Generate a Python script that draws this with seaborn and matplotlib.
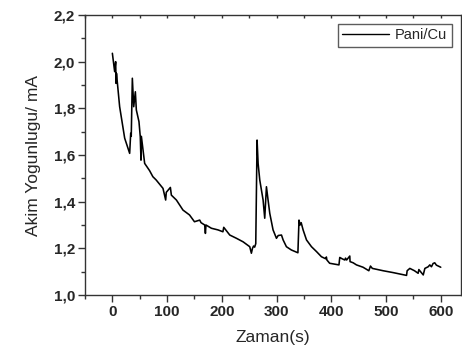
import matplotlib
matplotlib.use("Agg")
import matplotlib.pyplot as plt
from matplotlib.ticker import MultipleLocator, FixedLocator
import seaborn as sns
import pandas as pd

# Current density of the Pani/Cu electrode over time
zaman = [0, 4.2, 6, 6.8, 7.5, 13.3, 22.5, 31.6, 33.5, 34.5, 36.5, 39, 42, 43.8, 48.6, 51, 52.3, 53, 59, 68, 74,
         80, 92.5, 97.4, 98.5, 106, 107.8, 117, 129, 141, 150, 159.6, 162, 168.7, 170, 171, 181, 193, 202, 203.5,
         214.5, 226.7, 238.8, 251, 254, 256, 258, 260, 262, 264.4, 266.3, 269.3, 275.4, 278.4, 281.5, 284.5,
         287.6, 293.6, 299.8, 303, 309, 312, 318, 327, 339, 341, 343, 345, 348.5, 354.7, 363.8, 373, 382, 390,
         391, 392, 397, 414, 415.5, 420, 424.7, 426, 428, 433.8, 434.3, 440, 446, 458, 468.6, 471.6, 475, 494.7,
         513, 537.5, 538.6, 543.5, 552, 558.7, 560, 568, 571, 577, 580, 583, 586, 589, 592, 600]
akim = [2.036, 1.957, 2.0, 1.907, 1.95, 1.807, 1.672, 1.607, 1.693, 1.68, 1.929, 1.807, 1.871, 1.793, 1.743,
        1.678, 1.578, 1.68, 1.564, 1.533, 1.507,
        1.493, 1.457, 1.407, 1.44, 1.461, 1.428, 1.407, 1.364, 1.343, 1.314, 1.321, 1.31, 1.3, 1.264, 1.3,
        1.286, 1.279, 1.271, 1.29,
        1.257, 1.243, 1.228, 1.207, 1.179, 1.2, 1.21, 1.205, 1.22, 1.664, 1.564, 1.493, 1.407, 1.329, 1.464,
        1.407, 1.35, 1.279, 1.243, 1.255, 1.257, 1.236, 1.207, 1.193, 1.181, 1.321, 1.3, 1.31, 1.279, 1.236,
        1.207, 1.186, 1.164, 1.155, 1.163, 1.15, 1.136, 1.129, 1.161, 1.155, 1.15, 1.158, 1.15, 1.167, 1.143,
        1.138, 1.129, 1.119, 1.104, 1.124, 1.114, 1.104,
        1.096, 1.084, 1.104, 1.114, 1.104, 1.093, 1.109, 1.086, 1.114, 1.121, 1.129, 1.121, 1.135, 1.138,
        1.128, 1.119]

y_ticks = [1.0, 1.2, 1.4, 1.6, 1.8, 2.0, 2.2]
y_tick_labels = ["1,0", "1,2", "1,4", "1,6", "1,8", "2,0", "2,2"]
x_ticks = [0, 100, 200, 300, 400, 500, 600]

df = pd.DataFrame({"Zaman(s)": zaman, "Akim": akim, "seri": "Pani/Cu"})

sns.set_style("ticks")
plt.rcParams["font.family"] = ["Liberation Sans", "DejaVu Sans"]

fig = plt.figure(figsize=(4.62, 3.58), dpi=100)
ax = fig.add_axes([85 / 462, 1 - 295 / 358, (461 - 85) / 462, (295 - 15) / 358])

sns.lineplot(data=df, x="Zaman(s)", y="Akim", hue="seri", palette=["black"], linewidth=1.15,
             sort=False, estimator=None, ax=ax, legend=False)

ax.set_xlim(-50, 637)
ax.set_ylim(1.0, 2.2)
ax.xaxis.set_major_locator(FixedLocator(x_ticks))
ax.xaxis.set_minor_locator(MultipleLocator(50))
ax.set_yticks(y_ticks)
ax.set_yticklabels(y_tick_labels)
ax.yaxis.set_minor_locator(MultipleLocator(0.1))

for lab in ax.get_xticklabels() + ax.get_yticklabels():
    lab.set_fontweight("bold")
    lab.set_fontsize(11)

ax.tick_params(axis="both", which="major", direction="out", length=5, width=1, color="#333333", pad=2)
ax.tick_params(axis="both", which="minor", direction="out", length=3, width=1, color="#333333")

for s in ax.spines.values():
    s.set_color("#333333")
    s.set_linewidth(1)

# mirrored ticks on the top edge
top = ax.secondary_xaxis("top")
top.xaxis.set_major_locator(MultipleLocator(50))
top.tick_params(direction="in", length=2, width=1, color="#333333", labeltop=False)
top.spines["top"].set_visible(False)

ax.set_xlabel("Zaman(s)", fontsize=12.5, labelpad=8)
ax.set_ylabel("Akim Yogunlugu/ mA", fontsize=12.5, labelpad=9)

line, = ax.plot([], [], color="black", linewidth=1.0, label="Pani/Cu")
leg = ax.legend(handles=[line], loc="upper left", bbox_to_anchor=((338 - 85) / 376, 1 - 9 / 280),
                fontsize=10.5, frameon=True, fancybox=False, borderpad=0.3, handlelength=3.2,
                handletextpad=0.4, borderaxespad=0)
leg.get_frame().set_edgecolor("#333333")
leg.get_frame().set_linewidth(1)

fig.savefig("out.png", dpi=100)
